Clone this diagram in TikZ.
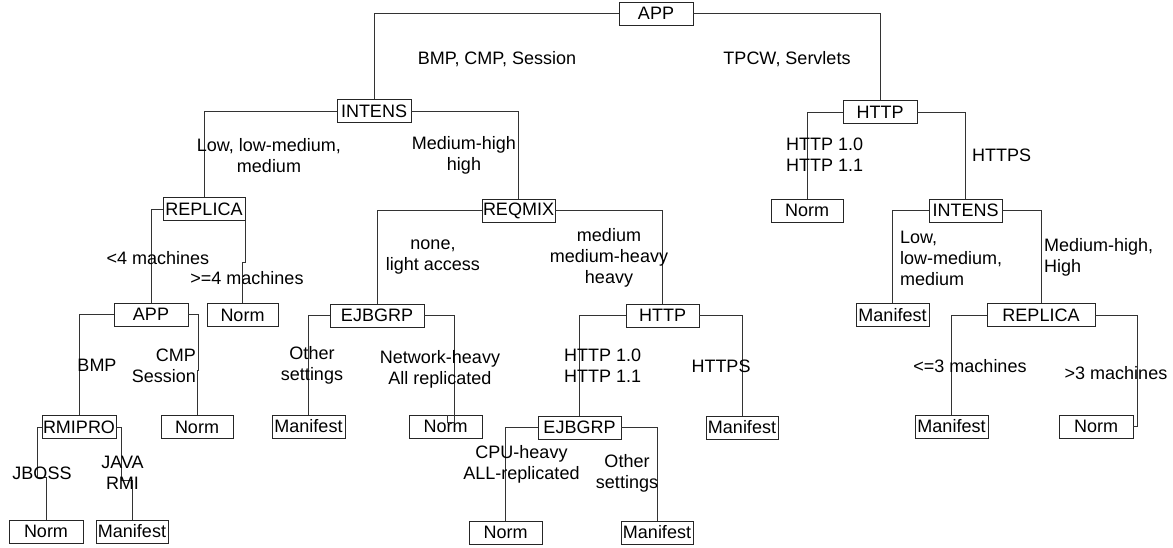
\documentclass[tikz,border=0pt]{standalone}
\usepackage{fontspec}
\setmainfont{Liberation Sans}
\begin{document}
\begin{tikzpicture}[x=1pt,y=-1pt,
  txt/.style={font=\fontsize{18}{21}\selectfont},
  box/.style={txt, draw=black!85, line width=0.9pt, minimum height=23pt, inner sep=0pt, minimum width=#1},
  box/.default=73pt,
  lbl/.style={txt, inner sep=0pt, align=center},
  lbll/.style={txt, inner sep=0pt, align=left},
  con/.style={draw=black!80, line width=0.9pt}]
\useasboundingbox (0,0) rectangle (1173,548);
% boxes
\node[box=74pt] (app1) at (656,13.5) {APP};
\node[box=74pt] (intens1) at (374,111) {INTENS};
\node[box=74pt] (http1) at (880,112) {HTTP};
\node[box=82pt] (replica1) at (204,209) {REPLICA};
\node[box=73pt] (reqmix) at (518.5,210.5) {REQMIX};
\node[box=72pt] (normf) at (807,210.5) {Norm};
\node[box=73pt] (intens2) at (965.5,210.5) {INTENS};
\node[box=74pt] (app2) at (151,314.5) {APP};
\node[box=71pt] (norma) at (242.5,315) {Norm};
\node[box=94pt] (ejbgrp1) at (377,315.5) {EJBGRP};
\node[box=73pt] (http2) at (662.5,315.5) {HTTP};
\node[box=73pt] (manifeste) at (892.5,315) {Manifest};
\node[box=108pt] (replica2) at (1041,315) {REPLICA};
\node[box=74pt] (rmipro) at (79,427) {RMIPRO};
\node[box=72pt] (normb) at (197,427) {Norm};
\node[box=73pt] (manifesta) at (308.5,426.5) {Manifest};
\node[box=73pt] (normc) at (445.5,426.5) {Norm};
\node[box=83pt] (ejbgrp2) at (579.5,427.5) {EJBGRP};
\node[box=72pt] (manifestb) at (742,427.5) {Manifest};
\node[box=73pt] (manifestf) at (951.5,426.5) {Manifest};
\node[box=74pt] (normg) at (1096,426.5) {Norm};
\node[box=74pt] (normd) at (46,531.5) {Norm};
\node[box=72pt] (manifestc) at (132,531.5) {Manifest};
\node[box=73pt] (norme) at (505.5,532.5) {Norm};
\node[box=72pt] (manifestd) at (657,532.5) {Manifest};
% connectors
\draw[con] (app1.west) -| (intens1.north);
\draw[con] (app1.east) -| (http1.north);
\draw[con] (intens1.west) -| (replica1.north);
\draw[con] (intens1.east) -| (reqmix.north);
\draw[con] (replica1.west) -| (app2.north);
\draw[con] (replica1.south east) -- ++(0,42) -| (norma.north);
\draw[con] (reqmix.west) -| (ejbgrp1.north);
\draw[con] (reqmix.east) -| (http2.north);
\draw[con] (app2.west) -| (rmipro.north);
\draw[con] (app2.east) -- ++(10,0) -- ++(0,56) -| (normb.north);
\draw[con] (rmipro.west) -- ++(-4.5,0) -- ++(0,50) -| (normd.north);
\draw[con] (rmipro.east) -- ++(5,0) -- ++(0,53) -| (manifestc.north);
\draw[con] (ejbgrp1.west) -| (manifesta.north);
\coordinate (jog) at (454.3,422);
\draw[con] (ejbgrp1.east) -| (jog) -| ([xshift=1.5pt]normc.north);
\draw[con] (http2.west) -| (ejbgrp2.north);
\draw[con] (http2.east) -| (manifestb.north);
\draw[con] (ejbgrp2.west) -| (norme.north);
\draw[con] (ejbgrp2.east) -| (manifestd.north);
\draw[con] (http1.west) -| (normf.north);
\draw[con] (http1.east) -| (intens2.north);
\draw[con] (intens2.west) -| (manifeste.north);
\draw[con] (intens2.east) -| (replica2.north);
\draw[con] (replica2.west) -| (manifestf.north);
\draw[con] (replica2.east) -- ++(42,0) |- (normg.east);
% labels
\node[lbl] (t1) at (497,59) {BMP, CMP, Session};
\node[lbl] (t2) at (787,59) {TPCW, Servlets};
\node[lbl] (t3) at (269,155.5) {Low, low-medium,\\medium};
\node[lbl] (t4) at (464,155.5) {Medium-high\\high};
\node[lbl] (t5) at (158,258) {<4 machines};
\node[lbl] (t6) at (247,278) {>=4 machines};
\node[lbl] (t7) at (433,257.5) {none,\\light access};
\node[lbl] (t8) at (609,258) {medium\\medium-heavy\\heavy};
\node[lbl] (t9) at (97,365) {BMP};
\node[txt, inner sep=0pt, align=right, anchor=east] (t10) at (196,365.5) {CMP\\Session};
\node[lbl] (t11) at (42,473) {JBOSS};
\node[lbl] (t12) at (122.5,473) {JAVA\\RMI};
\node[lbl] (t13) at (312,365.5) {Other\\settings};
\node[lbl] (t14) at (440,369) {Network-heavy\\All replicated};
\node[lbll, anchor=west] (t15) at (564,365.5) {HTTP 1.0\\HTTP 1.1};
\node[lbl] (t16) at (721,366) {HTTPS};
\node[lbl] (t17) at (521.5,464) {CPU-heavy\\ALL-replicated};
\node[lbl] (t18) at (627,473.5) {Other\\settings};
\node[lbll, anchor=west] (t19) at (786,155) {HTTP 1.0\\HTTP 1.1};
\node[lbl] (t20) at (1001.5,155) {HTTPS};
\node[lbll, anchor=west] (t21) at (900,258.5) {Low,\\low-medium,\\medium};
\node[lbll, anchor=west] (t22) at (1044,257) {Medium-high,\\High};
\node[lbl] (t23) at (970,366) {<=3 machines};
\node[lbl] (t24) at (1116,373) {>3 machines};
\end{tikzpicture}
\end{document}
